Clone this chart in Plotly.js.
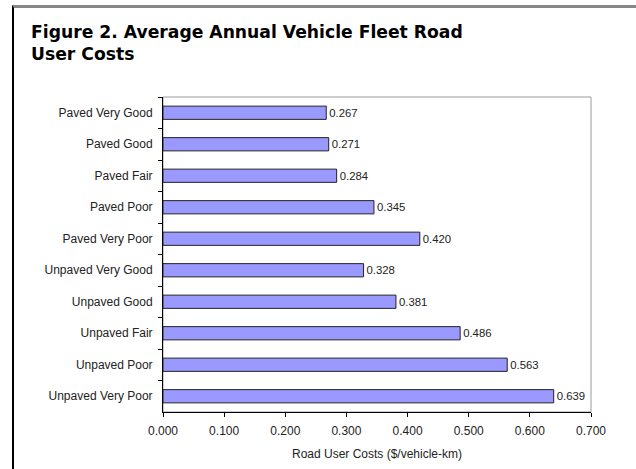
<!DOCTYPE html>
<html>
<head>
<meta charset="utf-8">
<script src="https://cdn.plot.ly/plotly-3.0.1.min.js"></script>
<style>
html,body{margin:0;padding:0;background:#fff;}
#wrap{position:relative;width:636px;height:469px;overflow:hidden;}
#chart{position:absolute;left:0;top:0;width:636px;height:469px;}
#frame{position:absolute;left:12px;top:5px;width:630px;height:470px;border-left:2px solid #000;border-top:3px solid #888;pointer-events:none;}
</style>
</head>
<body>
<div id="wrap"><div id="chart"></div><div id="frame"></div></div>
<script>
const categories = ["Paved Very Good","Paved Good","Paved Fair","Paved Poor","Paved Very Poor","Unpaved Very Good","Unpaved Good","Unpaved Fair","Unpaved Poor","Unpaved Very Poor"];
const costs = [0.267,0.271,0.284,0.345,0.420,0.328,0.381,0.486,0.563,0.639];
const xTickVals = [0,0.1,0.2,0.3,0.4,0.5,0.6,0.7];

const trace = {
  type: 'bar',
  orientation: 'h',
  y: categories,
  x: costs,
  width: 0.42,
  marker: {color: '#9999ff', line: {color: '#222', width: 1}},
  text: costs.map(v => v.toFixed(3)),
  textposition: 'outside',
  cliponaxis: false,
  textfont: {family: 'Liberation Sans, Arial, sans-serif', size: 12, color: '#222'},
  hoverinfo: 'none'
};

const layout = {
  width: 636, height: 469,
  margin: {l: 163, r: 45, t: 97, b: 57},
  paper_bgcolor: '#fff', plot_bgcolor: '#fff',
  showlegend: false,
  title: {
    text: 'Figure 2. Average Annual Vehicle Fleet Road<br>User Costs',
    font: {family: 'DejaVu Sans, Verdana, sans-serif', size: 17.2, color: '#000', weight: 'bold'},
    x: 31/636, xanchor: 'left', xref: 'container',
    y: 1 - 38/469, yanchor: 'top', yref: 'container'
  },
  xaxis: {
    range: [0, 0.7],
    tickvals: xTickVals,
    tickformat: '.3f',
    ticks: 'outside', ticklen: 4, tickcolor: '#000',
    ticklabelstandoff: 4,
    showline: true, linecolor: '#000', linewidth: 1,
    showgrid: false, zeroline: false,
    tickfont: {family: 'Liberation Sans, Arial, sans-serif', size: 12, color: '#222'},
    title: {text: 'Road User Costs ($/vehicle-km)', standoff: 12,
            font: {family: 'Liberation Sans, Arial, sans-serif', size: 12, color: '#222'}},
    fixedrange: true
  },
  yaxis: {
    autorange: 'reversed',
    type: 'category',
    ticks: 'outside', tickson: 'boundaries', ticklen: 4, tickcolor: '#000',
    ticklabelstandoff: 7,
    showline: true, linecolor: '#000', linewidth: 1,
    showgrid: false, zeroline: false,
    tickfont: {family: 'Liberation Sans, Arial, sans-serif', size: 12, color: '#222'},
    fixedrange: true
  },
  shapes: [{
    type: 'rect', xref: 'paper', yref: 'paper', x0: 0, x1: 1, y0: 0, y1: 1,
    line: {color: '#999', width: 1}, layer: 'below'
  }]
};

Plotly.newPlot('chart', [trace], layout, {staticPlot: true, displayModeBar: false});
</script>
</body>
</html>
